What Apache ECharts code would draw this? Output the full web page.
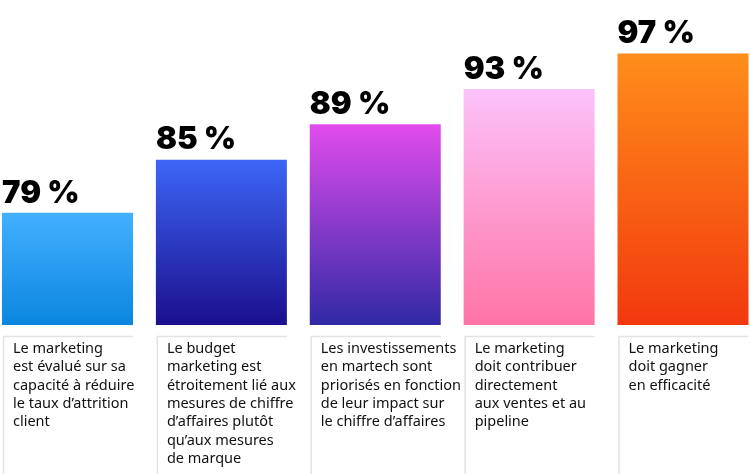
<!DOCTYPE html>
<html><head><meta charset="utf-8">
<script src="https://cdn.jsdelivr.net/npm/echarts@6/dist/echarts.min.js"></script>
<style>html,body{margin:0;padding:0;background:#fff}#c{width:750px;height:474px}</style>
</head><body><div id="c"></div>
<script>
const categories = [
  "Le marketing\nest évalué sur sa\ncapacité à réduire\nle taux d’attrition\nclient",
  "Le budget\nmarketing est\nétroitement lié aux\nmesures de chiffre\nd’affaires plutôt\nqu’aux mesures\nde marque",
  "Les investissements\nen martech sont\npriorisés en fonction\nde leur impact sur\nle chiffre d’affaires",
  "Le marketing\ndoit contribuer\ndirectement\naux ventes et au\npipeline",
  "Le marketing\ndoit gagner\nen efficacité"
];
const values = [79, 85, 89, 93, 97];
const topColors = ["#44b0ff", "#3d66f6", "#e24cee", "#fcc2fa", "#ff8e1a"];
const bottomColors = ["#0a86df", "#1b0f8d", "#3029a5", "#ff74a6", "#f2380e"];

const Y_MIN = 66.3, Y_MAX = 100;
const chart = echarts.init(document.getElementById('c'));
chart.setOption({
  animation: false,
  grid: { left: 67.5, right: 67, top: 27, bottom: 149 },
  xAxis: { type: 'category', boundaryGap: false, data: categories, axisLine: {show:false}, axisTick:{show:false}, axisLabel:{show:false}, splitLine:{show:false} },
  yAxis: { type: 'value', min: Y_MIN, max: Y_MAX, show: false, splitLine: {show:false} },
  series: [
    {
      type: 'bar',
      barWidth: 131,
      data: values.map((v, i) => ({
        value: v,
        itemStyle: { color: new echarts.graphic.LinearGradient(0, 0, 0, 1, [
          { offset: 0, color: topColors[i] }, { offset: 1, color: bottomColors[i] }
        ]) }
      })),
      label: {
        show: true,
        position: [0, -4],
        align: 'left',
        verticalAlign: 'bottom',
        formatter: p => p.value + ' %',
        fontFamily: 'Inter',
        fontWeight: 900,
        fontSize: 31,
        color: '#000'
      }
    },
    {
      type: 'custom',
      silent: true,
      clip: false,
      data: categories.map((c, i) => [i, c]),
      renderItem: (params, api) => {
        const idx = api.value(0);
        const pt = api.coord([idx, Y_MIN]);
        const left = pt[0] - 65.5;
        const top = pt[1] + 11.5;
        const lineStyle = { stroke: '#e3e3e3', lineWidth: 1.5 };
        return {
          type: 'group',
          children: [
            { type: 'line', shape: { x1: left + 1, y1: top, x2: left + 131, y2: top }, style: lineStyle },
            { type: 'line', shape: { x1: left + 1.5, y1: top, x2: left + 1.5, y2: top + 200 }, style: lineStyle },
            { type: 'text', style: {
                text: categories[idx], x: left + 11, y: top + 3,
                fontFamily: 'Noto Sans', fontSize: 14.5, lineHeight: 18.4,
                fill: '#111', textAlign: 'left', textVerticalAlign: 'top'
            } }
          ]
        };
      }
    }
  ]
});
</script></body></html>
